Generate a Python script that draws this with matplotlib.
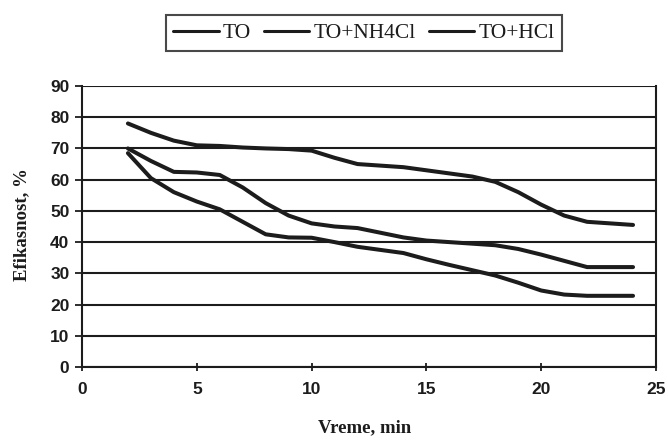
import matplotlib
matplotlib.use("Agg")
import matplotlib.pyplot as plt

time_min = [2, 3, 4, 5, 6, 7, 8, 9, 10, 11, 12, 13, 14, 15, 16, 17, 18, 19, 20, 21, 22, 23, 24]
to_vals = [68.5, 60.5, 56, 53, 50.5, 46.5, 42.5, 41.5, 41.4, 40, 38.5, 37.5, 36.5, 34.5,
           32.7, 31, 29.3, 27, 24.5, 23.2, 22.8, 22.8, 22.8]
to_nh4cl = [70, 66, 62.5, 62.3, 61.5, 57.5, 52.5, 48.5, 46, 45, 44.5, 43, 41.5, 40.5,
            40, 39.5, 39, 37.8, 36, 34, 32, 32, 32]
to_hcl = [78, 75, 72.5, 71, 70.8, 70.3, 70, 69.8, 69.3, 67, 65, 64.5, 64, 63,
          62, 61, 59.3, 56, 52, 48.5, 46.5, 46, 45.5]
series_labels = ["TO", "TO+NH4Cl", "TO+HCl"]
x_ticks = [0, 5, 10, 15, 20, 25]
y_ticks = [0, 10, 20, 30, 40, 50, 60, 70, 80, 90]

ink = "#1c1c1c"
fig = plt.figure(figsize=(6.68, 4.42), dpi=100)
ax = fig.add_axes([82/668, 1-367/442, (656-82)/668, (367-86)/442])

lines = []
for vals, lab in zip([to_vals, to_nh4cl, to_hcl], series_labels):
    ln, = ax.plot(time_min, vals, color=ink, lw=2.9, solid_capstyle="round",
                  solid_joinstyle="round", label=lab, zorder=3)
    lines.append(ln)

ax.set_xlim(0, 25)
ax.set_ylim(0, 90)
ax.set_xticks(x_ticks)
ax.set_yticks(y_ticks)
ax.yaxis.grid(True, color=ink, lw=1.5)
ax.set_axisbelow(True)
for s in ["left", "right", "bottom"]:
    ax.spines[s].set_color(ink)
    ax.spines[s].set_linewidth(1.5)
ax.spines["top"].set_visible(False)
ax.tick_params(axis="y", direction="out", length=5, width=1.3, color=ink, pad=4)
ax.tick_params(axis="x", direction="inout", length=6, width=1.3, color=ink, pad=8)
for t in ax.get_xticklabels() + ax.get_yticklabels():
    t.set_fontfamily("Liberation Sans")
    t.set_fontweight("bold")
    t.set_fontsize(12.5)
    t.set_color(ink)

fig.text(365/668, 1-428/442, "Vreme, min", ha="center", va="center",
         family="Liberation Serif", weight="bold", fontsize=13.5, color=ink)
fig.text(22/668, 1-225/442, "Efikasnost, %", ha="center", va="center", rotation=90,
         family="Liberation Serif", weight="bold", fontsize=13.5, color=ink)

leg = fig.legend(handles=lines, labels=series_labels, loc="center",
                 bbox_to_anchor=(364/668, 1-33/442), ncol=3, frameon=True,
                 fancybox=False, edgecolor=ink, handlelength=2.1, handletextpad=0.2,
                 columnspacing=0.6, borderpad=0.35,
                 prop={"family": "Liberation Serif", "size": 15.5})
leg.get_frame().set_linewidth(1.5)
for t in leg.get_texts():
    t.set_color(ink)
for h in leg.legend_handles:
    h.set_linewidth(2.2)

fig.savefig("out.png", dpi=100, facecolor="white")
